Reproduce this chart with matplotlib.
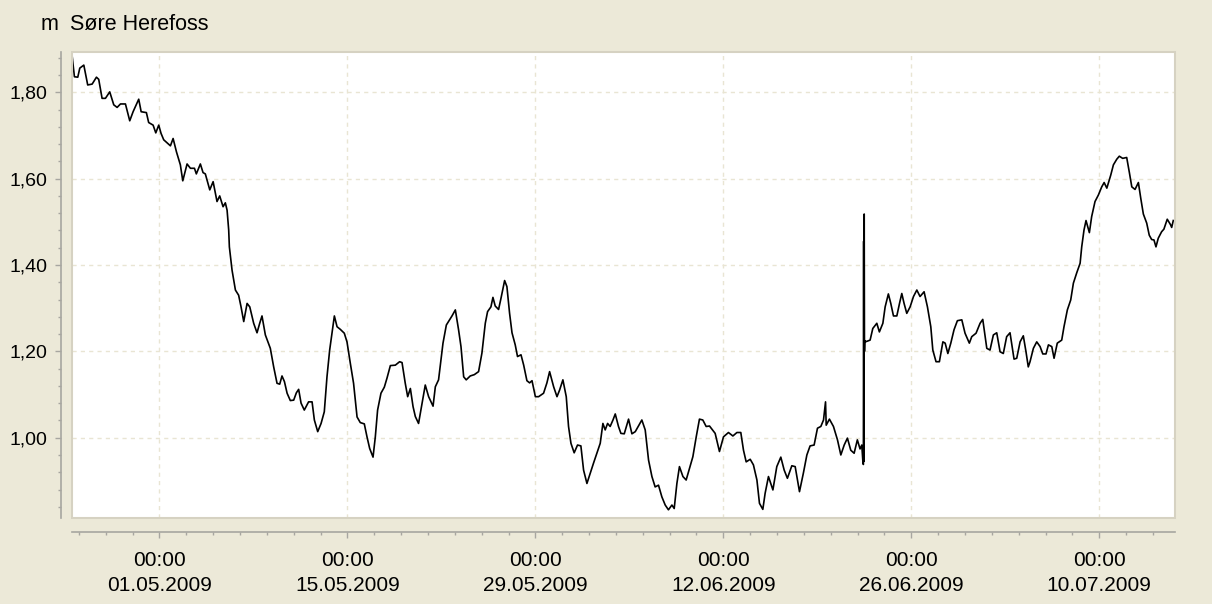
import numpy as np
import pandas as pd
import matplotlib
matplotlib.use('Agg')
import matplotlib.pyplot as plt
import matplotlib.dates as mdates
from matplotlib.ticker import FixedLocator, MultipleLocator, FuncFormatter
from matplotlib.patches import Rectangle

plt.rcParams['font.family'] = ['Liberation Sans', 'DejaVu Sans']

# water level (days counted from 01.05.2009 00:00)
days = [
    -6.50, -6.33, -6.08, -5.93, -5.63, -5.34, -5.01, -4.69, -4.52, -4.27, -4.02, -3.70, -3.40, -3.15,
    -2.90, -2.53, -2.21, -1.96, -1.54, -1.36, -0.97, -0.80, -0.47, -0.27, -0.05, 0.12, 0.32, 0.57,
    0.82, 1.02, 1.27, 1.56, 1.74, 2.06, 2.31, 2.61, 2.75, 3.05, 3.25, 3.42, 3.75, 4.00, 4.29, 4.49,
    4.74, 4.91, 5.04, 5.16,
    5.21, 5.41, 5.66, 5.90, 6.08, 6.28, 6.53, 6.73, 7.02, 7.27, 7.47, 7.64, 7.89, 8.26, 8.51, 8.76,
    8.96, 9.13, 9.31, 9.51, 9.75, 10.00, 10.20, 10.37, 10.55, 10.79, 11.11, 11.37, 11.54, 11.79,
    12.04, 12.28, 12.48, 12.68, 12.85, 13.03, 13.23, 13.47, 13.77, 13.97, 14.22, 14.46, 14.72, 14.96,
    15.26, 15.46, 15.66, 15.91, 16.08, 16.25, 16.50, 16.75, 16.95, 17.20,
    17.57, 17.89, 18.07, 18.31, 18.49, 18.69, 18.89, 19.06, 19.30, 19.56, 19.80, 20.05, 20.38, 20.55,
    20.79, 21.12, 21.37, 21.61, 21.79, 22.04, 22.28, 22.46, 22.66, 22.85, 23.15, 23.45, 23.77, 24.02,
    24.27, 24.44, 24.69, 24.84, 25.01, 25.26, 25.44, 25.71, 25.88, 26.08, 26.26, 26.50, 26.67, 26.93,
    27.13, 27.37, 27.57, 27.75, 28.00, 28.24, 28.61, 28.86, 29.06,
    29.36, 29.61, 29.80, 30.05, 30.30, 30.47, 30.65, 30.89, 31.14, 31.39, 31.59, 31.84, 32.09, 32.33,
    32.59, 32.83, 33.03, 33.20, 33.38, 33.57, 33.78, 33.95, 34.19, 34.37, 34.62, 34.94, 35.19, 35.44,
    35.68, 35.93, 36.18, 36.43, 36.68, 36.92, 37.17, 37.42, 37.67, 37.91, 38.17, 38.34, 38.54, 38.73,
    38.99, 39.23, 39.48, 39.73, 39.98, 40.22, 40.47, 40.72, 40.97,
    41.39, 41.71, 42.01, 42.38, 42.71, 43.01, 43.30, 43.50, 43.70, 44.00, 44.24, 44.50, 44.69, 44.94,
    45.11, 45.36, 45.69, 45.98, 46.28, 46.53, 46.77, 47.10, 47.35, 47.67, 47.96, 48.22, 48.46, 48.76,
    49.01, 49.26, 49.46, 49.61, 49.66, 49.90, 50.20, 50.50, 50.75, 51.00, 51.24, 51.49, 51.74, 51.98,
    52.18, 52.31, 52.40,
    52.43, 52.45, 52.47, 52.49, 52.51, 52.53, 52.58, 52.93,
    53.13, 53.43, 53.62, 53.88, 54.05, 54.29, 54.47, 54.67, 54.92, 55.12, 55.29, 55.46, 55.66, 55.91,
    56.16, 56.41, 56.65, 56.95, 57.20, 57.45, 57.60, 57.84, 58.09, 58.35, 58.52, 58.72, 58.94, 59.18,
    59.43, 59.76, 60.00, 60.32, 60.50, 60.82, 61.12, 61.32, 61.62, 61.86, 62.11, 62.36, 62.61, 62.85,
    63.10, 63.35, 63.65, 63.85, 64.10, 64.34, 64.54, 64.71,
    64.84, 65.09, 65.34, 65.59, 65.79, 66.03, 66.21, 66.46, 66.63, 66.87, 67.20, 67.37, 67.62, 67.87,
    68.07, 68.32, 68.57, 68.69, 68.86, 69.01, 69.26, 69.43, 69.68, 69.93, 70.18, 70.36, 70.56, 70.85,
    71.05, 71.30, 71.49, 71.74, 72.04, 72.24, 72.42, 72.66, 72.91, 73.09, 73.28, 73.53, 73.72, 73.90,
    74.07, 74.22, 74.39, 74.64, 74.81, 75.06, 75.31, 75.39, 75.51,
]
level = [
    1.884, 1.836, 1.835, 1.856, 1.863, 1.817, 1.819, 1.835, 1.830, 1.786, 1.786, 1.801, 1.771, 1.765,
    1.773, 1.773, 1.734, 1.755, 1.784, 1.755, 1.753, 1.730, 1.724, 1.706, 1.724, 1.705, 1.690, 1.683,
    1.676, 1.693, 1.662, 1.632, 1.595, 1.634, 1.624, 1.624, 1.611, 1.634, 1.614, 1.611, 1.574, 1.593,
    1.547, 1.560, 1.535, 1.544, 1.527, 1.481,
    1.442, 1.388, 1.342, 1.330, 1.303, 1.269, 1.311, 1.303, 1.265, 1.243, 1.265, 1.282, 1.238, 1.207,
    1.164, 1.126, 1.124, 1.143, 1.130, 1.103, 1.086, 1.087, 1.104, 1.112, 1.080, 1.064, 1.083, 1.083,
    1.041, 1.014, 1.033, 1.060, 1.141, 1.203, 1.242, 1.282, 1.257, 1.251, 1.242, 1.222, 1.172, 1.126,
    1.048, 1.035, 1.032, 1.002, 0.975, 0.955, 1.002, 1.064, 1.103, 1.117, 1.138, 1.167,
    1.168, 1.176, 1.174, 1.126, 1.095, 1.114, 1.072, 1.049, 1.033, 1.080, 1.122, 1.095, 1.073, 1.118,
    1.134, 1.219, 1.261, 1.273, 1.282, 1.296, 1.250, 1.211, 1.141, 1.134, 1.143, 1.146, 1.153, 1.196,
    1.265, 1.292, 1.303, 1.325, 1.305, 1.297, 1.323, 1.364, 1.350, 1.288, 1.243, 1.215, 1.188, 1.192,
    1.168, 1.132, 1.127, 1.132, 1.095, 1.095, 1.103, 1.127, 1.153,
    1.118, 1.095, 1.110, 1.134, 1.095, 1.026, 0.987, 0.965, 0.983, 0.981, 0.925, 0.894, 0.918, 0.941,
    0.965, 0.987, 1.033, 1.018, 1.033, 1.026, 1.041, 1.055, 1.026, 1.010, 1.009, 1.043, 1.009, 1.014,
    1.027, 1.041, 1.018, 0.948, 0.910, 0.886, 0.890, 0.863, 0.844, 0.833, 0.844, 0.836, 0.894, 0.933,
    0.910, 0.902, 0.929, 0.956, 1.002, 1.043, 1.041, 1.026, 1.027,
    1.010, 0.968, 1.002, 1.012, 1.004, 1.012, 1.012, 0.971, 0.944, 0.950, 0.937, 0.902, 0.848, 0.834,
    0.871, 0.910, 0.879, 0.933, 0.955, 0.925, 0.906, 0.935, 0.933, 0.875, 0.918, 0.960, 0.981, 0.983,
    1.022, 1.026, 1.041, 1.083, 1.029, 1.043, 1.026, 0.995, 0.960, 0.983, 0.999, 0.971, 0.964, 0.995,
    0.974, 0.983, 0.941,
    0.938, 1.455, 0.945, 1.518, 1.200, 1.225, 1.222, 1.226,
    1.253, 1.265, 1.245, 1.265, 1.303, 1.333, 1.311, 1.282, 1.282, 1.311, 1.334, 1.311, 1.288, 1.303,
    1.327, 1.342, 1.327, 1.338, 1.303, 1.257, 1.203, 1.176, 1.176, 1.222, 1.219, 1.195, 1.219, 1.250,
    1.271, 1.273, 1.242, 1.219, 1.234, 1.242, 1.265, 1.274, 1.207, 1.203, 1.238, 1.243, 1.199, 1.195,
    1.234, 1.243, 1.182, 1.184, 1.222, 1.236, 1.199, 1.164,
    1.176, 1.207, 1.222, 1.211, 1.194, 1.194, 1.215, 1.211, 1.184, 1.219, 1.226, 1.257, 1.296, 1.319,
    1.358, 1.382, 1.404, 1.442, 1.481, 1.503, 1.475, 1.512, 1.547, 1.562, 1.581, 1.591, 1.578, 1.608,
    1.632, 1.645, 1.652, 1.647, 1.649, 1.614, 1.581, 1.575, 1.591, 1.554, 1.518, 1.497, 1.469, 1.459,
    1.458, 1.442, 1.462, 1.477, 1.483, 1.506, 1.493, 1.487, 1.503,
]

tick_dates = ['01.05.2009', '15.05.2009', '29.05.2009', '12.06.2009', '26.06.2009', '10.07.2009']
y_ticks = [1.00, 1.20, 1.40, 1.60, 1.80]
title = 'Søre Herefoss'
unit = 'm'

bg = '#ECE9D8'
axis_grey = '#A7A6A0'
grid_col = '#E9E5D3'

base = pd.Timestamp('2009-05-01')
t = base + pd.to_timedelta(days, unit='D')

fig = plt.figure(figsize=(12.12, 6.04), dpi=100, facecolor=bg)
ax = fig.add_axes([72 / 1212, 86 / 604, 1102.5 / 1212, 466.5 / 604])
ax.set_facecolor('white')

ax.plot(t, level, color='black', lw=1.2)

ax.set_xlim(base + pd.Timedelta(days=-6.51), base + pd.Timedelta(days=75.6))
ax.set_ylim(0.814, 1.8945)

# x axis: major every 14 days, minor every 2 days
major_x = mdates.date2num(pd.to_datetime(tick_dates, format='%d.%m.%Y'))
ax.xaxis.set_major_locator(FixedLocator(major_x))
ax.xaxis.set_minor_locator(FixedLocator(mdates.date2num(pd.date_range('2009-04-25', '2009-07-17', freq='2D'))))
ax.xaxis.set_major_formatter(mdates.DateFormatter('%H:%M\n%d.%m.%Y'))

ax.yaxis.set_major_locator(FixedLocator(y_ticks))
ax.yaxis.set_minor_locator(MultipleLocator(0.04))
ax.yaxis.set_major_formatter(FuncFormatter(lambda v, p: f'{v:.2f}'.replace('.', ',')))

ax.grid(True, which='major', color=grid_col, lw=1, linestyle=(0, (3, 3)))

for s in ['top', 'right']:
    ax.spines[s].set_visible(False)
ax.spines['left'].set_position(('outward', 8))
ax.spines['bottom'].set_position(('outward', 10))
for s in ['left', 'bottom']:
    ax.spines[s].set_color(axis_grey)
    ax.spines[s].set_linewidth(1.2)

ax.tick_params(axis='x', which='major', length=4, width=1, color=axis_grey, pad=10, labelsize=15)
ax.tick_params(axis='x', which='minor', length=2, width=1, color=axis_grey)
ax.tick_params(axis='y', which='major', length=4.5, width=1, color=axis_grey, pad=5, labelsize=14)
ax.tick_params(axis='y', which='minor', length=2.2, width=1, color=axis_grey)
for lab in ax.get_xticklabels():
    lab.set_linespacing(1.4)

# light frame around the white plot area
ax.add_patch(Rectangle((0, 0), 1, 1, transform=ax.transAxes, fill=False,
                       edgecolor='#D6D2C2', lw=1.5, clip_on=False, zorder=5))

fig.text(41 / 1212, 1 - 25 / 604, unit, fontsize=15.5, va='center', ha='left')
fig.text(70 / 1212, 1 - 25 / 604, title, fontsize=15.5, va='center', ha='left')

fig.savefig('out.png', dpi=100, facecolor=bg)
